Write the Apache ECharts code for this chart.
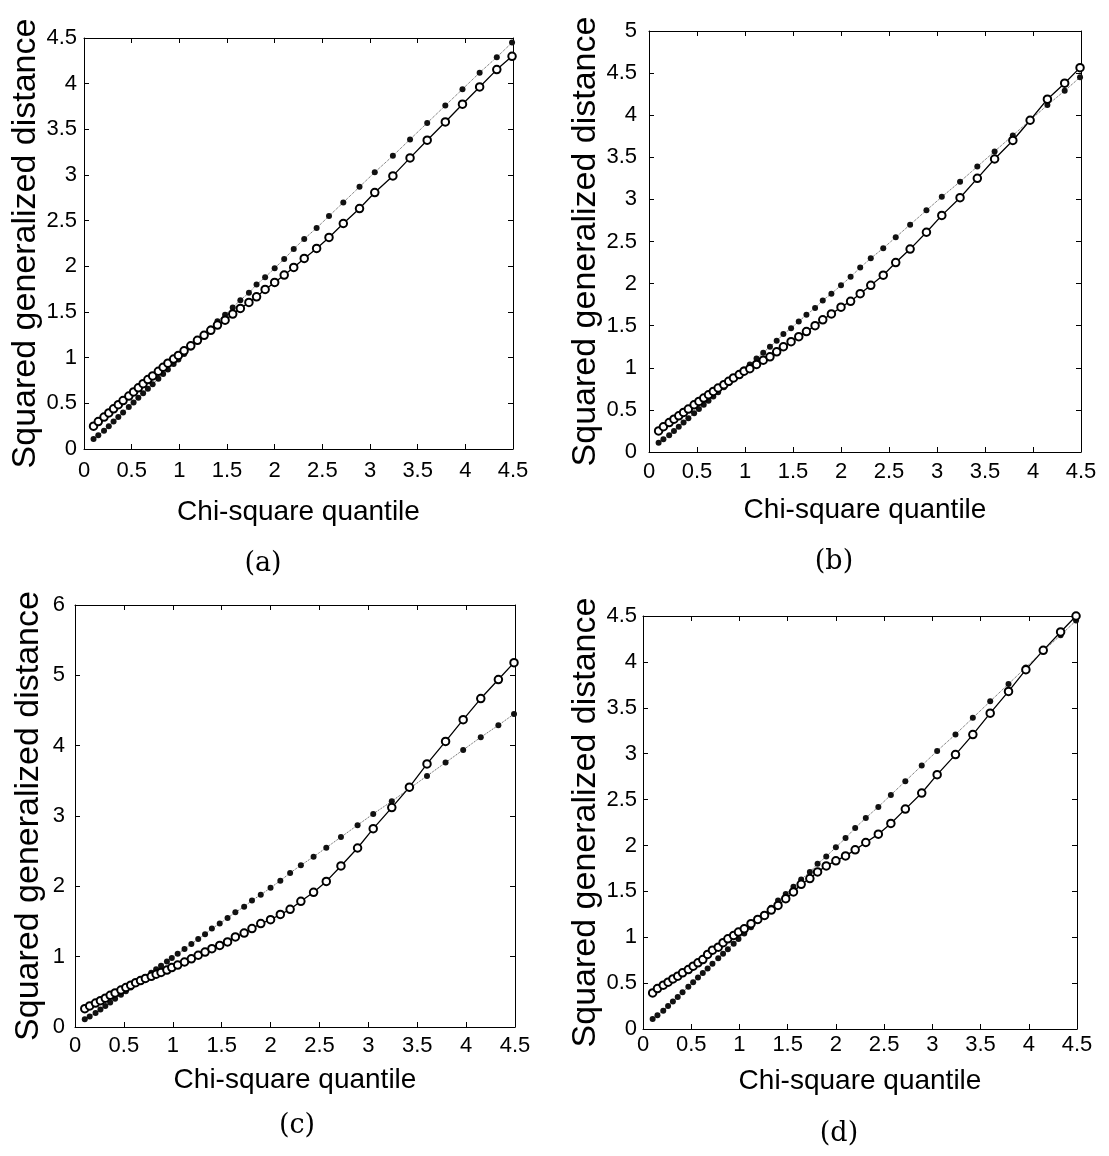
<!DOCTYPE html>
<html>
<head>
<meta charset="utf-8">
<script src="https://cdn.jsdelivr.net/npm/echarts@6/dist/echarts.min.js"></script>
<style>
html,body{margin:0;padding:0;background:#fff;}
#chart{width:1109px;height:1156px;}
</style>
</head>
<body>
<div id="chart"></div>
<script>
// ---- data ----
const chiSquareQuantile = [0.10,0.15,0.21,0.26,0.31,0.36,0.41,0.47,0.52,0.57,0.62,0.67,0.72,0.78,0.83,0.88,0.94,0.99,1.05,1.12,1.19,1.26,1.33,1.40,1.48,1.56,1.64,1.73,1.81,1.90,2.00,2.10,2.20,2.31,2.44,2.57,2.72,2.89,3.05,3.24,3.42,3.60,3.79,3.97,4.15,4.33,4.49];
// filled dots on the dotted line (same in every panel)
const referenceDistance = [0.11,0.15,0.20,0.25,0.30,0.35,0.40,0.46,0.51,0.56,0.61,0.66,0.71,0.77,0.82,0.87,0.93,0.98,1.04,1.11,1.18,1.25,1.32,1.40,1.47,1.55,1.63,1.71,1.80,1.88,1.98,2.08,2.19,2.30,2.42,2.55,2.70,2.87,3.03,3.21,3.39,3.57,3.76,3.94,4.12,4.29,4.45];
// open circles on the solid line
const distanceA = [0.25,0.30,0.35,0.395,0.44,0.485,0.53,0.58,0.625,0.67,0.715,0.76,0.80,0.85,0.895,0.94,0.985,1.025,1.075,1.13,1.19,1.245,1.30,1.357,1.411,1.477,1.539,1.605,1.666,1.747,1.824,1.904,1.988,2.086,2.196,2.316,2.469,2.633,2.808,2.99,3.187,3.381,3.581,3.775,3.964,4.154,4.30];
const distanceB = [0.25,0.30,0.35,0.39,0.43,0.47,0.51,0.56,0.60,0.64,0.68,0.72,0.76,0.80,0.84,0.88,0.92,0.96,0.99,1.04,1.09,1.13,1.19,1.25,1.31,1.37,1.43,1.50,1.57,1.64,1.72,1.79,1.88,1.98,2.10,2.25,2.41,2.61,2.81,3.02,3.25,3.48,3.70,3.94,4.19,4.38,4.565];
const distanceC = [0.26,0.30,0.34,0.375,0.41,0.45,0.485,0.525,0.56,0.595,0.63,0.66,0.69,0.72,0.75,0.775,0.81,0.845,0.88,0.924,0.97,1.02,1.066,1.114,1.16,1.21,1.28,1.336,1.40,1.47,1.526,1.60,1.673,1.787,1.915,2.07,2.29,2.545,2.82,3.12,3.41,3.74,4.06,4.37,4.67,4.94,5.18];
const distanceD = [0.393,0.44,0.477,0.51,0.546,0.575,0.612,0.648,0.685,0.721,0.757,0.812,0.859,0.892,0.94,0.983,1.02,1.056,1.092,1.147,1.194,1.238,1.296,1.347,1.42,1.493,1.577,1.639,1.712,1.777,1.832,1.886,1.952,2.032,2.123,2.24,2.396,2.571,2.771,2.99,3.208,3.441,3.678,3.915,4.126,4.326,4.50];

// tick values
const xTicks = [0,0.5,1,1.5,2,2.5,3,3.5,4,4.5];
const yTicksA = [0,0.5,1,1.5,2,2.5,3,3.5,4,4.5];
const yTicksB = [0,0.5,1,1.5,2,2.5,3,3.5,4,4.5,5];
const yTicksC = [0,1,2,3,4,5,6];
const yTicksD = [0,0.5,1,1.5,2,2.5,3,3.5,4,4.5];

const xTitle = 'Chi-square quantile';
const yTitle = 'Squared generalized distance';
const captions = ['(a)','(b)','(c)','(d)'];

// ---- layout ----
const FONT_SANS = "'Liberation Sans',Arial,Helvetica,sans-serif";
const FONT_SERIF = "'DejaVu Serif','Liberation Serif',serif";

const panels = [
  {open: distanceA, yTicks: yTicksA, left: 84, top: 38, width: 429, height: 411, xLabelMargin: 11, xNameGap: 49, yLabelMargin: 7, yNameGap: 39, capX: 263, capY: 564},
  {open: distanceB, yTicks: yTicksB, left: 649, top: 31, width: 432, height: 421, xLabelMargin: 9, xNameGap: 44, yLabelMargin: 12, yNameGap: 44, capX: 834, capY: 562},
  {open: distanceC, yTicks: yTicksC, left: 75, top: 605, width: 440, height: 422, xLabelMargin: 8, xNameGap: 39, yLabelMargin: 10, yNameGap: 29, capX: 297, capY: 1126},
  {open: distanceD, yTicks: yTicksD, left: 643, top: 616, width: 434, height: 413, xLabelMargin: 5, xNameGap: 38, yLabelMargin: 6, yNameGap: 35, capX: 839, capY: 1134}
];

const grids = [], xAxes = [], yAxes = [], series = [], graphics = [];
const lineBlack = {color: '#000', width: 1};
const tickStyle = {show: true, inside: true, length: 5, lineStyle: {color: '#000', width: 1}};

panels.forEach((p, i) => {
  grids.push({left: p.left, top: p.top, width: p.width, height: p.height});
  const xMin = xTicks[0], xMax = xTicks[xTicks.length - 1], xInt = xTicks[1] - xTicks[0];
  const yMin = p.yTicks[0], yMax = p.yTicks[p.yTicks.length - 1], yInt = p.yTicks[1] - p.yTicks[0];
  const xb = xAxes.length;
  xAxes.push({
    type: 'value', gridIndex: i, position: 'bottom', min: xMin, max: xMax, interval: xInt,
    axisLine: {show: true, onZero: false, lineStyle: lineBlack}, axisTick: tickStyle, splitLine: {show: false},
    axisLabel: {show: true, margin: p.xLabelMargin, fontSize: 22, fontFamily: FONT_SANS, color: '#000'},
    name: xTitle, nameLocation: 'middle', nameGap: p.xNameGap,
    nameTextStyle: {fontSize: 28, fontFamily: FONT_SANS, color: '#000'}
  });
  xAxes.push({
    type: 'value', gridIndex: i, position: 'top', min: xMin, max: xMax, interval: xInt,
    axisLine: {show: true, onZero: false, lineStyle: lineBlack}, axisTick: tickStyle, splitLine: {show: false},
    axisLabel: {show: false}
  });
  const yl = yAxes.length;
  yAxes.push({
    type: 'value', gridIndex: i, position: 'left', min: yMin, max: yMax, interval: yInt,
    axisLine: {show: true, onZero: false, lineStyle: lineBlack}, axisTick: tickStyle, splitLine: {show: false},
    axisLabel: {show: true, margin: p.yLabelMargin, fontSize: 22, fontFamily: FONT_SANS, color: '#000'},
    name: yTitle, nameLocation: 'middle', nameGap: p.yNameGap, nameRotate: 90,
    nameTextStyle: {fontSize: 34, fontFamily: FONT_SANS, color: '#000'}
  });
  yAxes.push({
    type: 'value', gridIndex: i, position: 'right', min: yMin, max: yMax, interval: yInt,
    axisLine: {show: true, onZero: false, lineStyle: lineBlack}, axisTick: tickStyle, splitLine: {show: false},
    axisLabel: {show: false}
  });
  series.push({
    type: 'line', xAxisIndex: xb, yAxisIndex: yl,
    data: chiSquareQuantile.map((v, k) => [v, referenceDistance[k]]),
    symbol: 'circle', symbolSize: 6, showSymbol: true,
    itemStyle: {color: '#111'},
    lineStyle: {type: 'dotted', width: 1, color: '#555'},
    z: 2, silent: true
  });
  series.push({
    type: 'line', xAxisIndex: xb, yAxisIndex: yl,
    data: chiSquareQuantile.map((v, k) => [v, p.open[k]]),
    symbol: 'emptyCircle', symbolSize: 7.5, showSymbol: true,
    itemStyle: {color: '#000', borderColor: '#000', borderWidth: 1.2},
    lineStyle: {type: 'solid', width: 1.3, color: '#000'},
    z: 3, silent: true
  });
  graphics.push({
    type: 'text', x: p.capX, y: p.capY,
    style: {text: captions[i], fontSize: 27, fontFamily: FONT_SERIF, fill: '#000',
            align: 'center', verticalAlign: 'middle', textAlign: 'center', textVerticalAlign: 'middle'}
  });
});

const chart = echarts.init(document.getElementById('chart'), null, {renderer: 'canvas'});
chart.setOption({
  animation: false,
  backgroundColor: '#fff',
  grid: grids,
  xAxis: xAxes,
  yAxis: yAxes,
  series: series,
  graphic: graphics
});
</script>
</body>
</html>
